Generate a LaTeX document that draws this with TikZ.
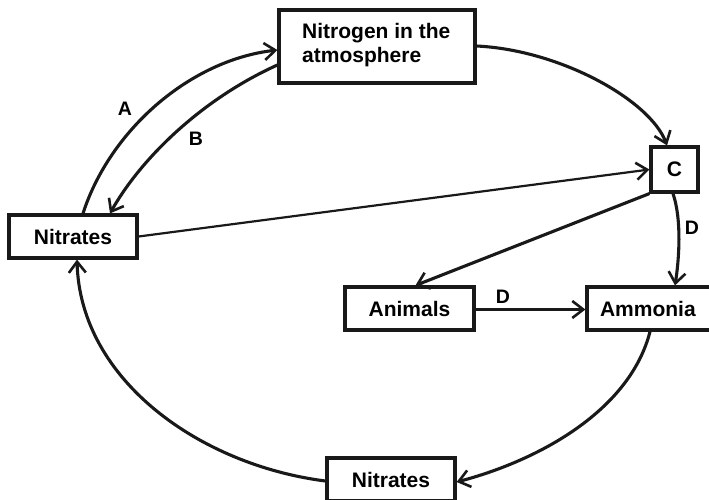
\documentclass[tikz,border=0pt]{standalone}
\usepackage{fontspec}
\setmainfont{Liberation Sans}
\usetikzlibrary{arrows.meta}
\begin{document}
\begin{tikzpicture}[x=1pt,y=-1pt,
  box/.style={draw=black!90, line width=3.2pt, inner sep=0pt, font=\fontsize{21}{24}\selectfont\bfseries},
  conn/.style={draw=black!90, line width=3.1pt, -{Straight Barb[length=11pt,width=17pt,line width=2.6pt]}},
  lbl/.style={font=\fontsize{19.5}{22}\selectfont\bfseries, inner sep=0pt}]
\useasboundingbox (0,0) rectangle (709,499);
\node[box, minimum width=196pt, minimum height=73pt] (atm) at (377,46.5) {};
\node[font=\fontsize{21}{24}\selectfont\bfseries, align=left, anchor=west, inner sep=0pt] (atmt) at (302,45) {Nitrogen in the\\atmosphere};
\node[box, minimum width=128pt, minimum height=43pt] (nl) at (73,236.5) {Nitrates};
\node[box, minimum width=47pt, minimum height=45pt] (C) at (674.5,169.5) {C};
\node[box, minimum width=129pt, minimum height=43pt] (anim) at (409.5,308.5) {Animals};
\node[box, minimum width=125pt, minimum height=43pt, text width=125pt, align=left] (amm) at (649.5,308.5) {\hspace*{13pt}Ammonia};
\node[box, minimum width=128pt, minimum height=43pt] (nb) at (391,479.5) {Nitrates};
% A
\draw[conn] ([xshift=10pt]nl.north) .. controls (110,130) and (190,60) .. ([yshift=-3.5pt]atm.west);
% B
\draw[conn] ([yshift=-18.5pt]atm.west) .. controls (200,100) and (140,160) .. ([xshift=37pt]nl.north);
\node[lbl] (la) at (125,109) {A};
\node[lbl] (lb) at (196,139) {B};
% atm -> C
\draw[conn] ([yshift=0.5pt]atm.east) .. controls (560,50) and (650,100) .. ([xshift=-7.5pt]C.north);
% nitrates -> C
\draw[conn, line width=2.2pt] (nl.east) -- (C.west);
% C -> animals
\draw[conn] (C.south west) -- ([xshift=6pt]anim.north);
% C -> ammonia
\draw[conn] ([xshift=-1.5pt]C.south) .. controls (682,220) and (679,260) .. ([xshift=25.5pt]amm.north);
\node[lbl] (ld1) at (692,228) {D};
% animals -> ammonia
\draw[conn] ([yshift=-1pt]anim.east) -- ([yshift=-1pt]amm.west);
\node[lbl] (ld2) at (503,297) {D};
% ammonia -> nitrates bottom
\draw[conn] ([xshift=0.5pt]amm.south) .. controls (630,410) and (540,460) .. ([yshift=-2.5pt]nb.east);
% nitrates bottom -> nitrates left
\draw[conn] ([yshift=-1.5pt]nb.west) .. controls (200,465) and (80,380) .. ([xshift=4pt]nl.south);
\end{tikzpicture}
\end{document}
